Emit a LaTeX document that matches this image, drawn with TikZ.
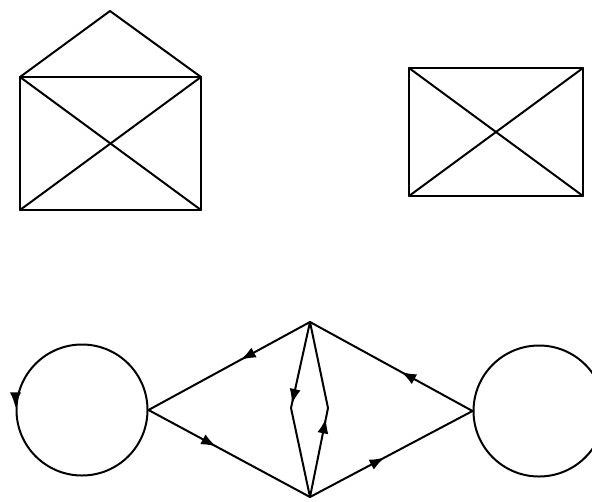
\documentclass[tikz,border=0pt]{standalone}
\usetikzlibrary{arrows.meta,decorations.markings}
\tikzset{
  ln/.style={line width=1.7pt, line join=round, line cap=round},
  midarrow/.style={postaction={decorate}, decoration={markings, mark=at position #1 with {\arrow{Latex[length=13pt,width=9.5pt]}}}},
  ring/.style={circle, draw, line width=1.7pt, minimum size=3.93cm, inner sep=0pt},
}
\begin{document}
\begin{tikzpicture}[x=0.03cm, y=-0.03cm]
\clip (0,0) rectangle (592,501);
\useasboundingbox (0,0) rectangle (592,501);
% envelope
\coordinate (ea) at (110,11);
\coordinate (etl) at (20,77);
\coordinate (etr) at (201,77);
\coordinate (ebl) at (20,210);
\coordinate (ebr) at (201,210);
\draw[ln] (etl) -- (ea) -- (etr);
\draw[ln] (etl) -- (etr) -- (ebr) -- (ebl) -- cycle;
\draw[ln] (etl) -- (ebr);
\draw[ln] (etr) -- (ebl);
% rectangle with cross
\coordinate (rtl) at (409,68);
\coordinate (rtr) at (583,68);
\coordinate (rbl) at (409,196);
\coordinate (rbr) at (583,196);
\draw[ln] (rtl) -- (rtr) -- (rbr) -- (rbl) -- cycle;
\draw[ln] (rtl) -- (rbr);
\draw[ln] (rtr) -- (rbl);
% graph
\node[ring] (lc) at (82,410) {};
\node[ring] (rc) at (539,411) {};
\coordinate (top) at (310,322);
\coordinate (bot) at (310,497);
\coordinate (lm) at (291,408);
\coordinate (rm) at (328,408);
\draw[ln, midarrow=0.43] (top) -- (lc.east);
\draw[ln, midarrow=0.42] (lc.east) -- (bot);
\draw[ln, midarrow=0.44] (rc.west) -- (top);
\draw[ln, midarrow=0.46] (bot) -- (rc.west);
\draw[ln, midarrow=0.47] (top) -- (lm) -- (bot);
\draw[ln, midarrow=0.45] (bot) -- (rm) -- (top);
\draw[line width=1.7pt, -{Latex[length=13pt,width=9.5pt]}] ([yshift=9pt]lc.west) -- ([yshift=2pt]lc.west);
\end{tikzpicture}
\end{document}
